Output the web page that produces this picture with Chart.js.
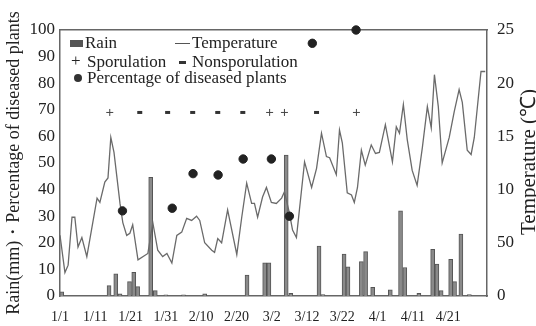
<!DOCTYPE html>
<html>
<head>
<meta charset="utf-8">
<script src="https://cdn.jsdelivr.net/npm/chart.js@4.4.0/dist/chart.umd.min.js"></script>
<style>
  body { margin: 0; background: #fff; }
  #wrap { position: relative; width: 536px; height: 326px; font-family: 'Liberation Serif', serif; color: #222; }
  #chart { position: absolute; left: 0; top: 0; }
  .lg { position: absolute; font-size: 17px; line-height: 18px; white-space: nowrap; }
  .mk { position: absolute; background: #333; }
  #ytitle2 { position: absolute; left: 428px; top: 151px; width: 200px; height: 22px; line-height: 22px;
             text-align: center; font-size: 21px; white-space: nowrap; transform: rotate(-90deg); }
</style>
</head>
<body>
<div id="wrap">
  <canvas id="chart" width="536" height="326"></canvas>

  <!-- legend, inside the plot box -->
  <div class="mk" style="left:70px;top:40px;width:13px;height:7px;background:#555"></div>
  <div class="lg" style="left:85px;top:34px">Rain</div>
  <div class="mk" style="left:175px;top:43px;width:15px;height:1px;background:#555"></div>
  <div class="lg" style="left:192px;top:34px">Temperature</div>
  <div class="lg" style="left:71px;top:52px">+</div>
  <div class="lg" style="left:87px;top:53px">Sporulation</div>
  <div class="mk" style="left:179px;top:61px;width:7px;height:3px"></div>
  <div class="lg" style="left:192px;top:53px">Nonsporulation</div>
  <div class="mk" style="left:74px;top:74px;width:8px;height:8px;border-radius:50%"></div>
  <div class="lg" style="left:87px;top:69px">Percentage of diseased plants</div>

  <div id="ytitle2">Temperature (℃)</div>
</div>

<script>
// days counted from 1/1
const tickDays = [0, 10, 20, 30, 40, 50, 60, 70, 80, 90, 100, 110];
const tickLabels = ['1/1', '1/11', '1/21', '1/31', '2/10', '2/20', '3/2', '3/12', '3/22', '4/1', '4/11', '4/21'];
const tempTickLabels = ['0', '50', '10', '15', '20', '25'];

// daily mean temperature (℃)
const tempDay = [0.0, 1.4, 2.3, 3.4, 4.2, 5.1, 6.2, 7.6, 10.5, 11.3, 12.7, 13.6, 14.4, 15.3, 17.0, 17.8,
  18.9, 19.8, 20.6, 22.1, 24.9, 26.3, 27.7, 29.1, 30.3, 31.7, 33.1, 34.5, 35.9, 37.3, 38.7, 39.6,
  41.0, 43.0, 43.8, 44.7, 45.8, 47.5, 50.1, 51.5, 52.9, 54.3, 55.1, 56.0, 57.4, 58.5, 59.9, 61.3,
  62.8, 63.6, 65.0, 65.9, 67.0, 69.3, 71.3, 72.7, 74.1, 75.5, 76.4, 78.3, 79.2, 80.0, 81.4, 82.6,
  83.4, 84.3, 85.4, 86.5, 88.2, 89.4, 90.5, 92.2, 94.2, 95.3, 96.2, 97.3, 98.4, 99.8, 101.2, 102.7,
  104.1, 105.2, 106.1, 107.2, 108.3, 110.3, 111.7, 113.1, 114.0, 115.4, 116.5, 117.4, 119.3, 120.5];
const tempValue = [5.7, 2.2, 2.9, 7.4, 7.4, 4.6, 5.5, 3.7, 9.2, 8.8, 10.7, 11.1, 14.9, 13.5, 8.7, 6.9,
  5.7, 5.9, 6.7, 3.4, 4.0, 6.9, 4.3, 3.7, 4.0, 3.1, 5.7, 6.0, 7.3, 7.1, 7.5, 7.1,
  5.0, 4.3, 4.1, 5.4, 5.0, 8.1, 3.9, 7.4, 10.6, 8.7, 8.7, 7.4, 9.3, 10.2, 8.8, 8.7,
  9.2, 9.8, 7.8, 6.2, 5.5, 12.6, 10.2, 12.0, 15.3, 13.1, 13.0, 11.4, 15.6, 14.4, 9.7, 9.5,
  8.8, 10.2, 13.7, 12.3, 14.2, 13.4, 13.5, 16.1, 12.6, 15.9, 15.3, 18.0, 14.7, 11.8, 10.4, 14.0,
  17.8, 15.8, 20.8, 17.8, 12.5, 14.9, 17.3, 19.4, 18.2, 13.7, 13.3, 14.9, 21.1, 21.1];

// rain (mm)
const rainDay = [0.5, 13.9, 15.8, 17.0, 19.7, 20.9, 22.0, 25.7, 27.0, 30.0, 35.0, 41.0, 53.0, 58.0, 59.2,
  64.1, 65.4, 73.4, 74.5, 80.5, 81.6, 85.4, 86.6, 88.6, 93.6, 96.5, 97.7, 101.7, 105.6, 106.8, 108.0,
  110.7, 111.8, 113.6, 116.0];
const rainValue = [1.6, 3.9, 8.3, 0.8, 5.4, 8.9, 3.5, 44.6, 2.0, 0.4, 0.4, 0.8, 7.9, 12.5, 12.5,
  53.0, 1.0, 18.8, 0.5, 15.8, 11.0, 12.9, 16.7, 3.3, 2.3, 32.0, 10.7, 1.0, 17.5, 12.0, 2.0,
  13.8, 5.4, 23.3, 0.5];

// observations: sporulation (+) / nonsporulation (-), drawn on one row
const statusLevel = 69;
const sporeDay = [14.1, 59.4, 63.6, 84.0];
const nonSporeDay = [22.6, 30.5, 37.6, 44.7, 51.8, 72.7];

// percentage of diseased plants
const diseaseDay = [17.7, 31.8, 37.7, 44.8, 51.9, 59.9, 65.0, 71.5, 83.9];
const diseaseValue = [32, 33, 46, 45.5, 51.5, 51.5, 30, 95, 100];

const xy = (xs, ys) => xs.map((x, i) => ({ x: x, y: Array.isArray(ys) ? ys[i] : ys }));

Chart.defaults.font.family = "'Liberation Serif', serif";
Chart.defaults.color = '#222';

const axisLine = { display: true, color: '#666', width: 1.5 };

new Chart(document.getElementById('chart'), {
  type: 'bar',
  data: {
    datasets: [
      {
        label: 'Rain',
        data: xy(rainDay, rainValue),
        yAxisID: 'y',
        backgroundColor: '#8a8a8a',
        borderColor: '#555',
        borderWidth: 1,
        barThickness: 4,
        order: 3
      },
      {
        type: 'line',
        label: 'Temperature',
        data: xy(tempDay, tempValue),
        yAxisID: 'y2',
        borderColor: '#6a6a6a',
        borderWidth: 1.3,
        pointRadius: 0,
        tension: 0,
        order: 2
      },
      {
        type: 'line',
        label: 'Sporulation',
        data: xy(sporeDay, statusLevel),
        yAxisID: 'y',
        showLine: false,
        pointStyle: 'cross',
        pointRadius: 3.5,
        borderColor: '#444',
        borderWidth: 1,
        order: 1
      },
      {
        type: 'line',
        label: 'Nonsporulation',
        data: xy(nonSporeDay, statusLevel),
        yAxisID: 'y',
        showLine: false,
        pointStyle: 'line',
        pointRadius: 2.5,
        borderColor: '#333',
        borderWidth: 3,
        order: 1
      },
      {
        type: 'line',
        label: 'Percentage of diseased plants',
        data: xy(diseaseDay, diseaseValue),
        yAxisID: 'y',
        showLine: false,
        pointStyle: 'circle',
        pointRadius: 4.2,
        backgroundColor: '#222',
        borderColor: '#222',
        borderWidth: 1,
        clip: false,
        order: 1
      }
    ]
  },
  options: {
    responsive: false,
    animation: false,
    devicePixelRatio: 1,
    layout: { padding: 0 },
    plugins: { legend: { display: false }, tooltip: { enabled: false } },
    scales: {
      x: {
        type: 'linear',
        position: 'bottom',
        min: 0,
        max: 121,
        offset: false,
        grid: { display: false, drawTicks: false },
        border: axisLine,
        afterBuildTicks: (scale) => { scale.ticks = tickDays.map(v => ({ value: v })); },
        ticks: {
          padding: 13,
          maxRotation: 0,
          autoSkip: false,
          font: { size: 14 },
          callback: (v, i) => tickLabels[i]
        },
        afterFit: (scale) => { scale.height = 30; }
      },
      x2: {
        type: 'linear',
        position: 'top',
        min: 0,
        max: 121,
        grid: { display: false, drawTicks: false },
        border: axisLine,
        ticks: { display: false },
        afterFit: (scale) => { scale.height = 30; }
      },
      y: {
        position: 'left',
        min: 0,
        max: 100,
        grid: { display: false, drawTicks: false },
        border: axisLine,
        ticks: { stepSize: 10, padding: 5, font: { size: 17 } },
        title: {
          display: true,
          text: 'Rain(mm)・Percentage of diseased plants',
          font: { size: 18 },
          padding: { top: 3, bottom: 0 }
        },
        afterFit: (scale) => { scale.width = 60; }
      },
      y2: {
        position: 'right',
        min: 0,
        max: 25,
        grid: { display: false, drawTicks: false },
        border: axisLine,
        ticks: {
          stepSize: 5,
          padding: 10,
          font: { size: 17 },
          callback: (v, i) => tempTickLabels[i]
        },
        afterFit: (scale) => { scale.width = 49; }
      }
    }
  }
});
</script>
</body>
</html>
